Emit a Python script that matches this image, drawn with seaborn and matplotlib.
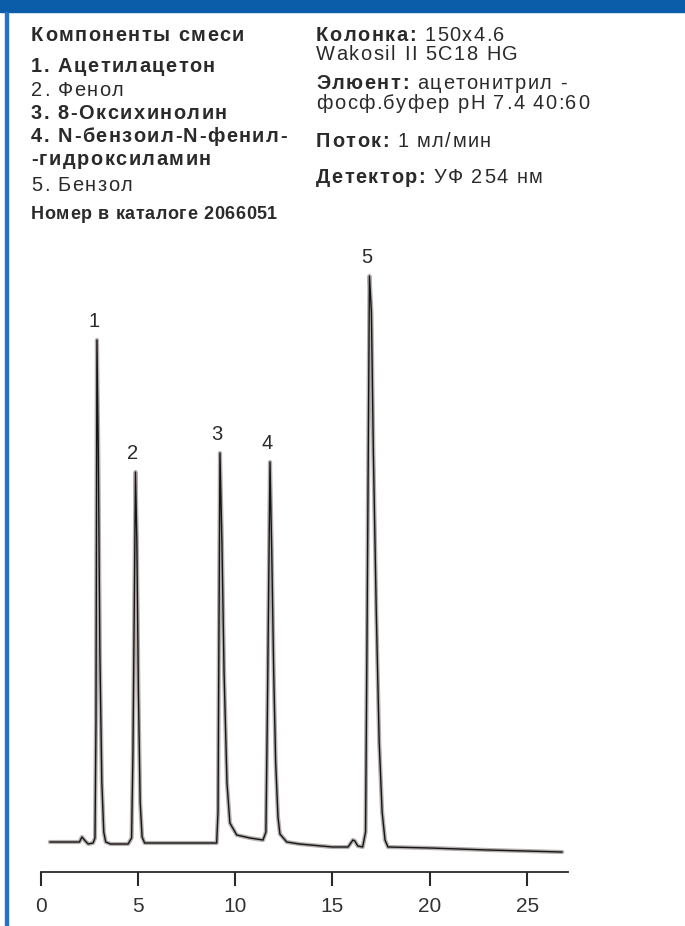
import matplotlib
matplotlib.use("Agg")
import matplotlib.pyplot as plt
import seaborn as sns
import pandas as pd

# chromatogram trace (time, min / detector signal, arb.)
time_min = [0.48, 2.0, 2.13, 2.3, 2.45, 2.7, 2.8, 2.85, 2.9, 2.97, 3.05, 3.15, 3.25, 3.35,
            3.6, 4.5, 4.68, 4.75, 4.88, 4.95, 5.03, 5.12, 5.22, 5.35, 7.0, 9.05, 9.12,
            9.17, 9.22, 9.32, 9.43, 9.58, 9.73, 10.08, 10.76, 11.43, 11.58, 11.65, 11.79,
            11.88, 11.98, 12.08, 12.2, 12.3, 12.65, 13.3, 15.0, 15.8, 16.05, 16.15, 16.3,
            16.55, 16.7, 16.78, 16.9, 17.0, 17.1, 17.25, 17.4, 17.55, 17.7, 17.85, 20.0,
            23.0, 26.8]
signal = [30, 30, 35, 31, 28, 29, 34, 150, 532, 420, 220, 90, 40, 30,
          28, 28, 34, 120, 400, 330, 180, 70, 35, 29, 29, 29, 60,
          250, 419, 330, 200, 89, 49, 37, 34, 32, 40, 150, 410,
          320, 200, 110, 55, 38, 30, 28, 25, 25, 32, 31, 26,
          25, 40, 250, 596, 560, 420, 260, 130, 60, 32, 25, 24,
          22, 20]

peak_numbers = ["1", "2", "3", "4", "5"]
peak_times = [2.9, 4.88, 9.22, 11.79, 16.9]
x_ticks = [0, 5, 10, 15, 20, 25]

header_left = "Компоненты смеси"
components = [("1. Ацетилацетон", True), ("2. Фенол", False),
              ("3. 8-Оксихинолин", True), ("4. N-бензоил-N-фенил-", True),
              ("-гидроксиламин", True), ("5. Бензол", False)]
conditions = [[("Колонка:", True), (" 150x4.6", False)],
              [("Wakosil II 5C18 HG", False)],
              [("Элюент:", True), (" ацетонитрил -", False)],
              [("фосф.буфер pH 7.4 40:60", False)],
              [("Поток:", True), (" 1 мл/мин", False)],
              [("Детектор:", True), (" УФ 254 нм", False)]]
catalog_label = "Номер в каталоге 2066051"

W, H = 685, 926
TXT = "#2a2a2a"

sns.set_theme(style="white")
plt.rcParams["font.family"] = ["Liberation Sans", "DejaVu Sans"]

fig = plt.figure(figsize=(W / 100, H / 100), dpi=100)
renderer = fig.canvas.get_renderer()


def tracked(x_px, base_px, runs, size=14.4, track=1.5):
    # matplotlib has no letter spacing, so place glyph by glyph
    x = x_px
    space = size * 100 / 72 * 0.28
    for s, bold in runs:
        for ch in s:
            if ch == " ":
                x += space + track
                continue
            t = fig.text(x / W, 1 - base_px / H, ch, fontsize=size, color=TXT,
                         fontweight="bold" if bold else "normal", ha="left", va="baseline")
            x += t.get_window_extent(renderer=renderer).width + track
    return x


# blue frame
fig.patches.append(plt.Rectangle((0, 1 - 12 / H), 1, 12 / H, transform=fig.transFigure,
                                 color="#0b5ca9", zorder=0))
fig.patches.append(plt.Rectangle((5 / W, 0), 2.5 / W, 1 - 12 / H, transform=fig.transFigure,
                                 color="#2572c8", zorder=0))

# header text
tracked(31, 41, [(header_left, True)])
left_bases = [72, 96, 119, 142, 165, 191]
for (s, bold), b in zip(components, left_bases):
    tracked(31, b, [(s, bold)])
right_bases = [41, 60, 89, 109, 147, 183]
for runs, b in zip(conditions, right_bases):
    tracked(316, b, runs)
tracked(31, 219, [(catalog_label, True)], size=13.0, track=0.6)

# chromatogram
ax = fig.add_axes([40.5 / W, 54 / H, (568 - 40.5) / W, 622 / H])
df = pd.DataFrame({"t": time_min, "s": signal})
sns.lineplot(data=df, x="t", y="s", ax=ax, estimator=None, sort=False,
             color="#b5afad", lw=3.0)
sns.lineplot(data=df, x="t", y="s", ax=ax, estimator=None, sort=False,
             color="#151515", lw=1.0)

for num, pt in zip(peak_numbers, peak_times):
    top = df.loc[(df.t - pt).abs() < 0.3, "s"].max()
    ax.annotate(num, (pt, top), xytext=(-2, 13), textcoords="offset points",
                ha="center", va="center", fontsize=14.5, color=TXT)

ax.set_xlim(0, 27.1)
ax.set_ylim(0, 622)
ax.set_xticks(x_ticks)
ax.set_yticks([])
ax.set_xlabel("")
ax.set_ylabel("")
for side in ["left", "right", "top"]:
    ax.spines[side].set_visible(False)
ax.spines["bottom"].set_color("#2a2a2a")
ax.spines["bottom"].set_linewidth(1.3)
ax.tick_params(axis="x", direction="out", length=10, width=1.5, color="#2a2a2a",
               labelsize=15, labelcolor="#333333", pad=8, bottom=True)
ax.patch.set_alpha(0)

fig.savefig("out.png", dpi=100)
